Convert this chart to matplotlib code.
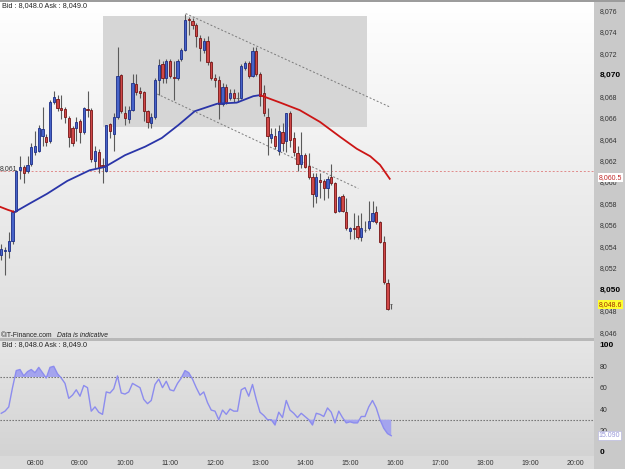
import matplotlib
matplotlib.use("Agg")
import matplotlib.pyplot as plt
import matplotlib.transforms as mtransforms
from matplotlib.colors import LinearSegmentedColormap
from matplotlib.patches import Rectangle
import numpy as np

plt.rcParams["font.family"] = ["Liberation Sans", "DejaVu Sans"]

# 5-minute candles, first one at 07:15
candle_start = "07:15"
candle_minutes = 5

opens = [
    8.0532, 8.0536, 8.0536, 8.0545, 8.0573, 8.0611, 8.0614, 8.0610, 8.0617, 8.0628,
    8.0629, 8.0643, 8.0642, 8.0638, 8.0675, 8.0677, 8.0669, 8.0668, 8.0660, 8.0650,
    8.0650, 8.0657, 8.0647, 8.0668, 8.0667, 8.0620, 8.0628, 8.0616, 8.0610, 8.0654,
    8.0645, 8.0661, 8.0700, 8.0664, 8.0659, 8.0667, 8.0691, 8.0685, 8.0684, 8.0666,
    8.0655, 8.0661, 8.0695, 8.0710, 8.0697, 8.0713, 8.0698, 8.0697, 8.0715, 8.0723,
    8.0752, 8.0750, 8.0746, 8.0734, 8.0723, 8.0731, 8.0712, 8.0697, 8.0695, 8.0673,
    8.0689, 8.0678, 8.0683, 8.0678, 8.0678, 8.0706, 8.0711, 8.0699, 8.0722, 8.0701,
    8.0683, 8.0661, 8.0641, 8.0643, 8.0629, 8.0647, 8.0638, 8.0664, 8.0641, 8.0627,
    8.0617, 8.0625, 8.0615, 8.0605, 8.0587, 8.0602, 8.0601, 8.0594, 8.0605, 8.0599,
    8.0573, 8.0587, 8.0572, 8.0554, 8.0557, 8.0559, 8.0549, 8.0555, 8.0557, 8.0564,
    8.0572, 8.0563, 8.0544, 8.0506, 8.0486,
]
highs = [
    8.0542, 8.0539, 8.0553, 8.0574, 8.0611, 8.0624, 8.0616, 8.0624, 8.0636, 8.0648,
    8.0653, 8.0670, 8.0645, 8.0676, 8.0685, 8.0681, 8.0681, 8.0670, 8.0662, 8.0652,
    8.0661, 8.0659, 8.0670, 8.0685, 8.0669, 8.0634, 8.0631, 8.0622, 8.0653, 8.0655,
    8.0664, 8.0726, 8.0701, 8.0671, 8.0671, 8.0701, 8.0701, 8.0689, 8.0685, 8.0667,
    8.0664, 8.0697, 8.0715, 8.0713, 8.0715, 8.0715, 8.0713, 8.0715, 8.0725, 8.0757,
    8.0754, 8.0753, 8.0748, 8.0737, 8.0734, 8.0736, 8.0713, 8.0701, 8.0699, 8.0692,
    8.0691, 8.0687, 8.0687, 8.0684, 8.0710, 8.0713, 8.0713, 8.0726, 8.0726, 8.0703,
    8.0690, 8.0669, 8.0650, 8.0650, 8.0653, 8.0655, 8.0664, 8.0666, 8.0647, 8.0634,
    8.0647, 8.0627, 8.0627, 8.0608, 8.0608, 8.0608, 8.0603, 8.0606, 8.0617, 8.0600,
    8.0587, 8.0589, 8.0585, 8.0558, 8.0571, 8.0569, 8.0571, 8.0564, 8.0582, 8.0582,
    8.0578, 8.0564, 8.0550, 8.0510, 8.0486,
]
lows = [
    8.0527, 8.0513, 8.0529, 8.0542, 8.0572, 8.0603, 8.0599, 8.0608, 8.0615, 8.0625,
    8.0628, 8.0634, 8.0634, 8.0636, 8.0673, 8.0666, 8.0659, 8.0655, 8.0633, 8.0634,
    8.0638, 8.0636, 8.0645, 8.0661, 8.0619, 8.0613, 8.0608, 8.0599, 8.0609, 8.0641,
    8.0629, 8.0659, 8.0664, 8.0653, 8.0655, 8.0666, 8.0681, 8.0678, 8.0657, 8.0650,
    8.0650, 8.0659, 8.0681, 8.0692, 8.0692, 8.0697, 8.0676, 8.0695, 8.0713, 8.0722,
    8.0737, 8.0743, 8.0726, 8.0713, 8.0720, 8.0709, 8.0695, 8.0689, 8.0659, 8.0671,
    8.0673, 8.0676, 8.0675, 8.0675, 8.0677, 8.0704, 8.0697, 8.0698, 8.0699, 8.0671,
    8.0662, 8.0625, 8.0636, 8.0631, 8.0625, 8.0629, 8.0628, 8.0633, 8.0624, 8.0610,
    8.0613, 8.0613, 8.0603, 8.0577, 8.0580, 8.0585, 8.0583, 8.0585, 8.0597, 8.0571,
    8.0572, 8.0572, 8.0555, 8.0547, 8.0547, 8.0547, 8.0545, 8.0553, 8.0555, 8.0563,
    8.0561, 8.0543, 8.0505, 8.0481, 8.0482,
]
closes = [
    8.0538, 8.0537, 8.0545, 8.0572, 8.0610, 8.0614, 8.0608, 8.0616, 8.0633, 8.0634,
    8.0650, 8.0649, 8.0637, 8.0675, 8.0679, 8.0669, 8.0667, 8.0661, 8.0642, 8.0636,
    8.0656, 8.0647, 8.0669, 8.0667, 8.0621, 8.0629, 8.0614, 8.0615, 8.0653, 8.0648,
    8.0661, 8.0699, 8.0666, 8.0660, 8.0667, 8.0692, 8.0684, 8.0683, 8.0666, 8.0656,
    8.0661, 8.0695, 8.0709, 8.0697, 8.0713, 8.0699, 8.0697, 8.0713, 8.0723, 8.0751,
    8.0751, 8.0746, 8.0736, 8.0725, 8.0731, 8.0712, 8.0697, 8.0695, 8.0673, 8.0689,
    8.0675, 8.0683, 8.0678, 8.0678, 8.0708, 8.0711, 8.0699, 8.0722, 8.0701, 8.0680,
    8.0664, 8.0643, 8.0645, 8.0634, 8.0648, 8.0636, 8.0664, 8.0639, 8.0628, 8.0617,
    8.0625, 8.0614, 8.0605, 8.0589, 8.0605, 8.0600, 8.0594, 8.0603, 8.0599, 8.0572,
    8.0586, 8.0573, 8.0557, 8.0557, 8.0556, 8.0549, 8.0557, 8.0555, 8.0564, 8.0571,
    8.0563, 8.0544, 8.0507, 8.0482, 8.0486,
]

# RSI, one value per candle
rsi = [
    36, 38, 42, 60, 76, 77, 71, 75, 77, 74,
    79, 74, 69, 79, 80, 73, 69, 64, 50, 53,
    58, 52, 62, 60, 38, 42, 37, 35, 56, 55,
    59, 71, 55, 54, 56, 64, 62, 60, 49, 45,
    48, 63, 68, 60, 66, 58, 57, 64, 69, 76,
    74, 68, 60, 53, 56, 46, 39, 38, 30, 39,
    35, 40, 38, 38, 58, 60, 52, 63, 49, 37,
    34, 30, 30, 25, 37, 32, 48, 39, 36, 32,
    36, 33, 30, 25, 36, 35, 33, 41, 37, 27,
    38, 32, 27, 28, 27, 27, 33, 33, 42, 48,
    41, 30, 22, 17, 15,
]

# moving average
ma_times = ["07:13", "07:24", "07:33", "07:53", "08:16", "08:43", "09:13", "09:33",
            "10:00", "10:27", "10:49", "11:11", "11:33", "12:03", "12:29", "12:51",
            "13:00", "13:27", "13:53", "14:20", "14:47", "15:09", "15:27", "15:40", "15:53"]
ma_values = [8.0577, 8.0574, 8.0572, 8.0580, 8.0589, 8.0601, 8.0611, 8.0614,
             8.0625, 8.0633, 8.0641, 8.0653, 8.0666, 8.0673, 8.0674, 8.0680,
             8.0681, 8.0674, 8.0667, 8.0656, 8.0642, 8.0631, 8.0624, 8.0616, 8.0603]
ma_low_time = "07:33"
ma_peak_time = "13:00"

# drawn objects
box_times = ["09:30", "15:22"]
box_prices = [8.0651, 8.0755]
upper_line_times = ["11:21", "15:53"]
upper_line_prices = [8.0757, 8.0670]
lower_line_times = ["10:43", "15:11"]
lower_line_prices = [8.0682, 8.0594]
ref_price = 8.0610
ref_label = "8,060.5"
last_label = "8,048.6"
rsi_label = "15.090"

price_ticks = [8.046, 8.048, 8.050, 8.052, 8.054, 8.056, 8.058, 8.060, 8.062,
               8.064, 8.066, 8.068, 8.070, 8.072, 8.074, 8.076]
price_tick_labels = ["8,046", "8,048", "8,050", "8,052", "8,054", "8,056", "8,058", "8,060",
                     "8,062", "8,064", "8,066", "8,068", "8,070", "8,072", "8,074", "8,076"]
rsi_ticks = [0, 20, 40, 60, 80, 100]
rsi_tick_labels = ["0", "20", "40", "60", "80", "100"]
hour_ticks = ["08:00", "09:00", "10:00", "11:00", "12:00", "13:00", "14:00",
              "15:00", "16:00", "17:00", "18:00", "19:00", "20:00"]


def hours(s):
    h, m = s.split(":")
    return int(h) + int(m) / 60


W, H = 625, 469
fig = plt.figure(figsize=(6.25, 4.69), dpi=100)
fig.patch.set_facecolor("#dadada")

# right scale column, top bar, panel separator (behind the axes)
fig.patches.append(Rectangle((594 / W, 0), 31 / W, 1, transform=fig.transFigure,
                             facecolor="#c9c9c9", edgecolor="none", zorder=-2))
fig.patches.append(Rectangle((0, 1 - 2 / H), 1, 2 / H, transform=fig.transFigure,
                             facecolor="#9c9c9c", edgecolor="none", zorder=-1))
fig.patches.append(Rectangle((0, 1 - 341 / H), 594 / W, 3 / H, transform=fig.transFigure,
                             facecolor="#b8b8b8", edgecolor="none", zorder=-1))

ax = fig.add_axes([0, 1 - 338 / H, 594 / W, 336 / H])
ax2 = fig.add_axes([0, 1 - 456 / H, 594 / W, 115 / H])

xlim = (7.2222, 20.4222)
grad = np.linspace(0, 1, 256).reshape(-1, 1)
ax.imshow(grad, cmap=LinearSegmentedColormap.from_list("bg", ["#ffffff", "#dedede"]),
          extent=[0, 1, 0, 1], transform=ax.transAxes, aspect="auto", zorder=0)
ax2.imshow(grad, cmap=LinearSegmentedColormap.from_list("bg2", ["#e6e6e6", "#d3d3d3"]),
           extent=[0, 1, 0, 1], transform=ax2.transAxes, aspect="auto", zorder=0)

t0 = hours(candle_start)
times = np.array([t0 + i * candle_minutes / 60 for i in range(len(opens))])
o = np.array(opens)
c = np.array(closes)
hi = np.array(highs)
lo = np.array(lows)

# highlight box
ax.add_patch(Rectangle((hours(box_times[0]), box_prices[0]),
                       hours(box_times[1]) - hours(box_times[0]), box_prices[1] - box_prices[0],
                       facecolor="#d6d6d6", edgecolor="none", zorder=1))

# reference line
ax.axhline(ref_price, color="#e08a8a", lw=0.7, linestyle=(0, (2, 2)), zorder=2)

# channel lines
ax.plot([hours(t) for t in upper_line_times], upper_line_prices, color="#7a7a7a",
        lw=0.7, linestyle=(0, (2, 2)), zorder=2)
ax.plot([hours(t) for t in lower_line_times], lower_line_prices, color="#7a7a7a",
        lw=0.7, linestyle=(0, (2, 2)), zorder=2)

# candles
body_w = 0.05
up = c > o
doji = np.abs(c - o) < 0.00008
ax.vlines(times, lo, hi, color="#5a5a5a", lw=0.8, zorder=3)
bottom = np.minimum(o, c)
height = np.maximum(np.abs(c - o), 0.00005)
ax.bar(times[up & ~doji], height[up & ~doji], bottom=bottom[up & ~doji], width=body_w,
       color="#4763c9", edgecolor="#1b2d86", linewidth=0.6, zorder=4)
ax.bar(times[~up & ~doji], height[~up & ~doji], bottom=bottom[~up & ~doji], width=body_w,
       color="#d04848", edgecolor="#761414", linewidth=0.6, zorder=4)
ax.bar(times[doji], height[doji], bottom=bottom[doji], width=body_w,
       color="#777777", edgecolor="#555555", linewidth=0.6, zorder=4)

# moving average: red while falling, blue while rising
mt = np.array([hours(t) for t in ma_times])
mv = np.array(ma_values)
lo_t, pk_t = hours(ma_low_time), hours(ma_peak_time)
seg = mt <= lo_t
ax.plot(mt[seg], mv[seg], color="#cc1515", lw=1.3, zorder=5)
seg = (mt >= lo_t) & (mt <= pk_t)
ax.plot(mt[seg], mv[seg], color="#2a35a8", lw=1.3, zorder=5)
seg = mt >= pk_t
ax.plot(mt[seg], mv[seg], color="#cc1515", lw=1.3, zorder=5)

ax.set_xlim(*xlim)
ax.set_ylim(8.04546, 8.07678)
ax.set_xticks([])
ax.yaxis.tick_right()
ax.set_yticks(price_ticks)
ax.set_yticklabels(price_tick_labels)
ax.tick_params(axis="y", length=0, pad=4, labelsize=5, labelcolor="#333333")
for lbl in ax.get_yticklabels():
    if lbl.get_text() in ("8,050", "8,070"):
        lbl.set_fontweight("bold")
        lbl.set_fontsize(6)
        lbl.set_color("#000000")
for sp in ax.spines.values():
    sp.set_visible(False)

blend = mtransforms.blended_transform_factory(ax.transAxes, ax.transData)
ax.text(1.008, 8.0604, ref_label, transform=blend, fontsize=5, color="#c02828",
        va="center", ha="left", clip_on=False, zorder=10,
        bbox=dict(boxstyle="square,pad=0.15", facecolor="white", edgecolor="none"))
ax.text(1.008, closes[-1], last_label, transform=blend, fontsize=5, color="#a03000",
        va="center", ha="left", clip_on=False, zorder=10,
        bbox=dict(boxstyle="square,pad=0.15", facecolor="#ffff30", edgecolor="none"))
ax.text(0.0, 8.0613, "8,061", transform=blend, fontsize=5, color="#333333",
        va="center", ha="left", zorder=6)

# RSI panel
rt = times
rv = np.array(rsi, dtype=float)
ax2.axhline(70, color="#666666", lw=0.8, linestyle=(0, (1.2, 1.5)), zorder=2)
ax2.axhline(30, color="#666666", lw=0.8, linestyle=(0, (1.2, 1.5)), zorder=2)
ax2.fill_between(rt, 70, rv, where=rv > 70, interpolate=True, color="#a4a4ee", lw=0, zorder=3)
ax2.fill_between(rt, 30, rv, where=rv < 30, interpolate=True, color="#a4a4ee", lw=0, zorder=3)
ax2.plot(rt, rv, color="#8c8cee", lw=1.0, zorder=4)

ax2.set_xlim(*xlim)
ax2.set_ylim(-4.0, 103.7)
ax2.set_xticks([hours(t) for t in hour_ticks])
ax2.set_xticklabels(hour_ticks)
ax2.tick_params(axis="x", length=0, pad=3, labelsize=5, labelcolor="#333333")
ax2.yaxis.tick_right()
ax2.set_yticks(rsi_ticks)
ax2.set_yticklabels(rsi_tick_labels)
ax2.tick_params(axis="y", length=0, pad=4, labelsize=5, labelcolor="#333333")
for lbl in ax2.get_yticklabels():
    if lbl.get_text() in ("0", "100"):
        lbl.set_fontweight("bold")
        lbl.set_fontsize(6)
        lbl.set_color("#000000")
for sp in ax2.spines.values():
    sp.set_visible(False)
blend2 = mtransforms.blended_transform_factory(ax2.transAxes, ax2.transData)
ax2.text(1.008, rsi[-1], rsi_label, transform=blend2, fontsize=5, color="#9898d8",
         va="center", ha="left", clip_on=False, zorder=10,
         bbox=dict(boxstyle="square,pad=0.15", facecolor="white", edgecolor="#b0b0e0", lw=0.4))

# header texts
fig.text(2 / W, 1 - 6 / H, "Bid : 8,048.0 Ask : 8,049.0", fontsize=5.2, color="#222222", va="center")
fig.text(2 / W, 1 - 345 / H, "Bid : 8,048.0 Ask : 8,049.0", fontsize=5.2, color="#222222", va="center")
fig.text(1 / W, 1 - 335 / H, "©IT-Finance.com", fontsize=4.9, color="#222222", va="center")
fig.text(57 / W, 1 - 335 / H, "Data is indicative", fontsize=4.9, color="#222222",
         va="center", style="italic")

fig.savefig("out.png", dpi=100, facecolor=fig.get_facecolor())
